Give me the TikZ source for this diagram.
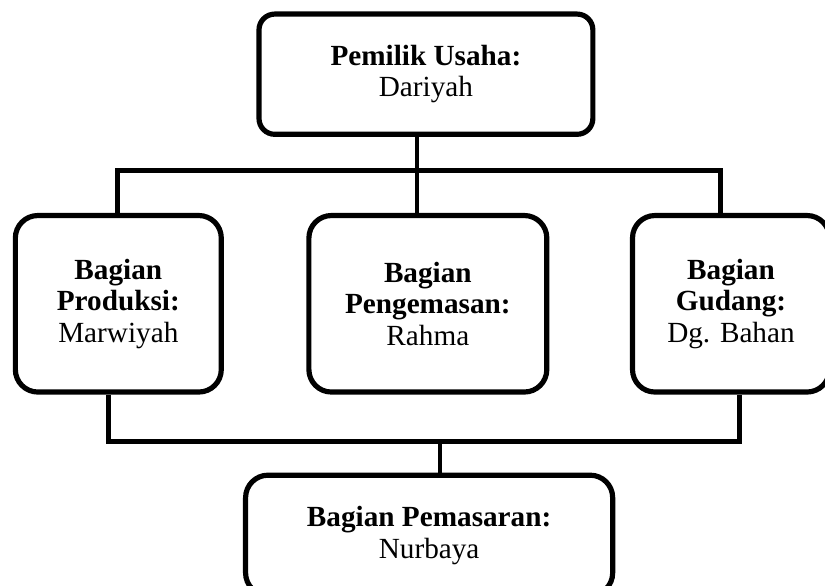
\documentclass[tikz,border=0pt]{standalone}
\usepackage{fontspec}
\setmainfont{Liberation Serif}
\usetikzlibrary{positioning}

\begin{document}
\begin{tikzpicture}[
    box/.style={draw, line width=2.3pt, rounded corners=10pt, align=center,
      font=\fontsize{13}{14}\selectfont, minimum height=2.76cm, inner sep=2pt},
    bar/.style={line width=2.2pt}]
  \useasboundingbox (0,0) rectangle (12.90,-9.15);
  % boxes
  \node[box, rounded corners=7pt, minimum width=5.22cm, minimum height=1.88cm] (owner) at (6.66,-1.16) {\textbf{Pemilik Usaha:}\\Dariyah};
  \node[box, minimum width=3.22cm] (prod) at (1.85,-4.75) {\textbf{Bagian}\\\textbf{Produksi:}\\Marwiyah};
  \node[box, minimum width=3.72cm] (pack) at (6.69,-4.75) {\textbf{Bagian}\\\textbf{Pengemasan:}\\Rahma};
  \node[box, minimum width=3.08cm] (store) at (11.43,-4.75) {\textbf{Bagian}\\\textbf{Gudang:}\\Dg. Bahan};
  \node[box, minimum width=5.74cm, minimum height=1.88cm] (sales) at (6.71,-8.37) {\textbf{Bagian Pemasaran:}\\Nurbaya};
  % connectors
  \coordinate (topjoin) at (6.52,-2.67);
  \coordinate (tl) at (1.83,-2.67);
  \coordinate (tr) at (11.26,-2.67);
  \coordinate (bl) at (1.70,-6.90);
  \coordinate (br) at (11.56,-6.90);
  \coordinate (bjoin) at (6.88,-6.90);
  \draw[bar] (topjoin |- owner.south) to (topjoin |- pack.north);
  \draw[bar] (tl |- prod.north) -- (tl) -- (tr) -- (tr |- store.north);
  \draw[bar] (bl |- prod.south) -- (bl) -- (br) -- (br |- store.south);
  \draw[bar] (bjoin) to (bjoin |- sales.north);
\end{tikzpicture}
\end{document}
